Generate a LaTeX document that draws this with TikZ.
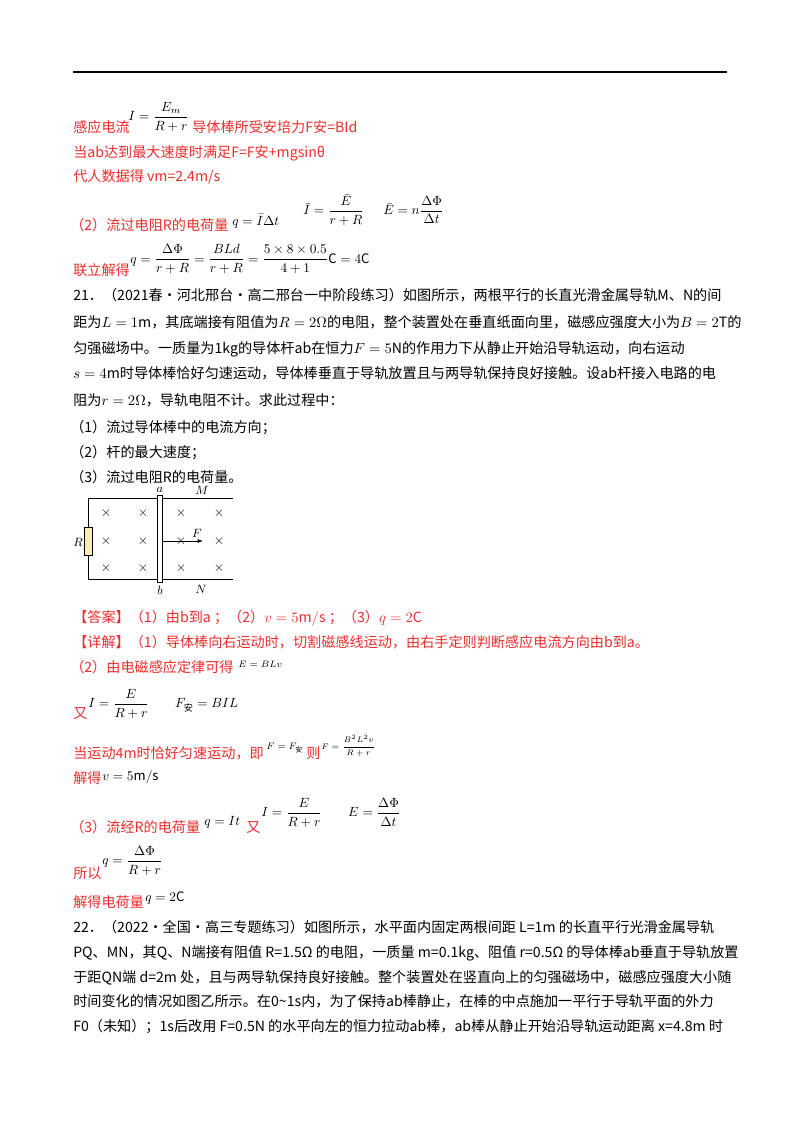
\documentclass[tikz,border=0pt]{standalone}
\usepackage{amsmath}
\usepackage{fontspec}
\setmainfont{Noto Sans CJK SC}
\usetikzlibrary{arrows.meta}
\definecolor{ans}{RGB}{235,45,45}
\begin{document}
\begin{tikzpicture}[x=0.75pt,y=-0.75pt,
  txt/.style={anchor=base west,inner sep=0,font=\fontsize{10.6pt}{12pt}\selectfont},
  rtxt/.style={txt,text=ans},
  fm/.style={anchor=west,inner sep=0,font=\fontsize{9.8pt}{11pt}\selectfont},
  cross/.style={font=\fontsize{10pt}{10pt}\selectfont,inner sep=0},
  lbl/.style={font=\fontsize{9pt}{10pt}\selectfont\itshape,inner sep=0}]
\useasboundingbox (0,0) rectangle (800,1132);
\draw[line width=1pt] (73,72) -- (727,72);
% part 1
\node[rtxt] (l1) at (73,132) {感应电流};
\node[fm] (f1) at (128,117) {$I=\dfrac{E_m}{R+r}$};
\node[rtxt] (l1b) at (192,132) {导体棒所受安培力F安=BId};
\node[rtxt] (l2) at (73,157) {当ab达到最大速度时满足F=F安+mgsinθ};
\node[rtxt] (l3) at (73,181) {代人数据得 vm=2.4m/s};
\node[rtxt] (l4) at (70,230) {（2）流过电阻R的电荷量};
\node[fm] (f2) at (232,221) {$q=\bar I\Delta t$};
\node[fm] (f3) at (303,210) {$\bar I=\dfrac{\bar E}{r+R}$};
\node[fm] (f4) at (383,210) {$\bar E=n\dfrac{\Delta\Phi}{\Delta t}$};
\node[rtxt] (l5) at (73,275) {联立解得};
\node[fm] (f5) at (130,259) {$q=\dfrac{\Delta\Phi}{r+R}=\dfrac{BLd}{r+R}=\dfrac{5\times8\times0.5}{4+1}\mathrm{C}=4\mathrm{C}$};
% problem 21
\node[txt] (p1) at (73,300) {21．（2021春•河北邢台•高二邢台一中阶段练习）如图所示，两根平行的长直光滑金属导轨M、N的间};
\node[txt] (p2) at (73,327) {距为$L=1\mathrm{m}$，其底端接有阻值为$R=2\Omega$的电阻，整个装置处在垂直纸面向里，磁感应强度大小为$B=2\mathrm{T}$的};
\node[txt] (p3) at (73,353) {匀强磁场中。一质量为1kg的导体杆ab在恒力$F=5\mathrm{N}$的作用力下从静止开始沿导轨运动，向右运动};
\node[txt] (p4) at (73,378) {$s=4\mathrm{m}$时导体棒恰好匀速运动，导体棒垂直于导轨放置且与两导轨保持良好接触。设ab杆接入电路的电};
\node[txt] (p5) at (73,405) {阻为$r=2\Omega$，导轨电阻不计。求此过程中：};
\node[txt] (p6) at (70,432) {（1）流过导体棒中的电流方向；};
\node[txt] (p7) at (70,457) {（2）杆的最大速度；};
\node[txt] (p8) at (70,482) {（3）流过电阻R的电荷量。};
% figure
\coordinate (tl) at (88,498); \coordinate (tr) at (233,498);
\coordinate (bl) at (88,579); \coordinate (br) at (233,579);
\draw[line width=0.6pt] (tr) -- (tl) -- (bl) -- (br);
\node[draw,fill=yellow!45!orange!25,minimum width=6pt,minimum height=21pt,inner sep=0,line width=0.6pt] (res) at (88,541) {};
\node[draw,fill=white,minimum width=3.5pt,minimum height=65pt,inner sep=0,line width=0.6pt] (rod) at (160,539) {};
\foreach \x in {106,143,181,219}\foreach \y in {513,541,568}{\node[cross] at (\x,\y) {$\times$};}
\coordinate (fend) at (203,541);
\draw[line width=0.6pt,-{Latex[length=4pt]}] (rod.east |- fend) -- (fend);
\node[lbl] (la) at (160,490) {$a$};
\node[lbl] (lb) at (160,590) {$b$};
\node[lbl] (lM) at (202,490) {$M$};
\node[lbl] (lN) at (201,589) {$N$};
\node[lbl] (lR) at (78,542) {$R$};
\node[lbl] (lF) at (197,533) {$F$};
% answer
\node[rtxt] (a1) at (73,622) {【答案】（1）由b到a ；（2）$v=5\mathrm{m/s}$ ；（3）$q=2\mathrm{C}$};
\node[rtxt] (a2) at (73,647) {【详解】（1）导体棒向右运动时，切割磁感线运动，由右手定则判断感应电流方向由b到a。};
\node[rtxt] (a3) at (70,672) {（2）由电磁感应定律可得};
\node[fm,font=\fontsize{7.5pt}{8pt}\selectfont] (f6) at (238,664) {$E=BLv$};
\node[rtxt] (a4) at (73,718) {又};
\node[fm] (f7) at (88,704) {$I=\dfrac{E}{R+r}\qquad F_{\text{安}}=BIL$};
\node[rtxt] (a5) at (73,758) {当运动4m时恰好匀速运动，即};
\node[fm,font=\fontsize{7.5pt}{8pt}\selectfont] (f8) at (266,748) {$F=F_{\text{安}}$};
\node[rtxt] (a5b) at (306,758) {则};
\node[fm,font=\fontsize{6.5pt}{7pt}\selectfont] (f9) at (321,746) {$F=\dfrac{B^2L^2v}{R+r}$};
\node[rtxt] (a6) at (73,783) {解得};
\node[fm] (f10) at (102,777) {$v=5\mathrm{m/s}$};
\node[rtxt] (a7) at (70,832) {（3）流经R的电荷量};
\node[fm] (f11) at (204,822) {$q=It$};
\node[rtxt] (a7b) at (246,832) {又};
\node[fm] (f12) at (261,813) {$I=\dfrac{E}{R+r}\qquad E=\dfrac{\Delta\Phi}{\Delta t}$};
\node[rtxt] (a8) at (73,878) {所以};
\node[fm] (f13) at (102,861) {$q=\dfrac{\Delta\Phi}{R+r}$};
\node[rtxt] (a9) at (73,907) {解得电荷量};
\node[fm] (f14) at (145,898) {$q=2\mathrm{C}$};
% problem 22
\node[txt] (q1) at (73,932) {22．（2022•全国•高三专题练习）如图所示，水平面内固定两根间距 L=1m 的长直平行光滑金属导轨};
\node[txt] (q2) at (73,957) {PQ、MN，其Q、N端接有阻值 R=1.5Ω 的电阻，一质量 m=0.1kg、阻值 r=0.5Ω 的导体棒ab垂直于导轨放置};
\node[txt] (q3) at (73,982) {于距QN端 d=2m 处，且与两导轨保持良好接触。整个装置处在竖直向上的匀强磁场中，磁感应强度大小随};
\node[txt] (q4) at (73,1006) {时间变化的情况如图乙所示。在0\textasciitilde1s内，为了保持ab棒静止，在棒的中点施加一平行于导轨平面的外力};
\node[txt] (q5) at (73,1031) {F0（未知）；1s后改用 F=0.5N 的水平向左的恒力拉动ab棒，ab棒从静止开始沿导轨运动距离 x=4.8m 时};
\end{tikzpicture}
\end{document}
